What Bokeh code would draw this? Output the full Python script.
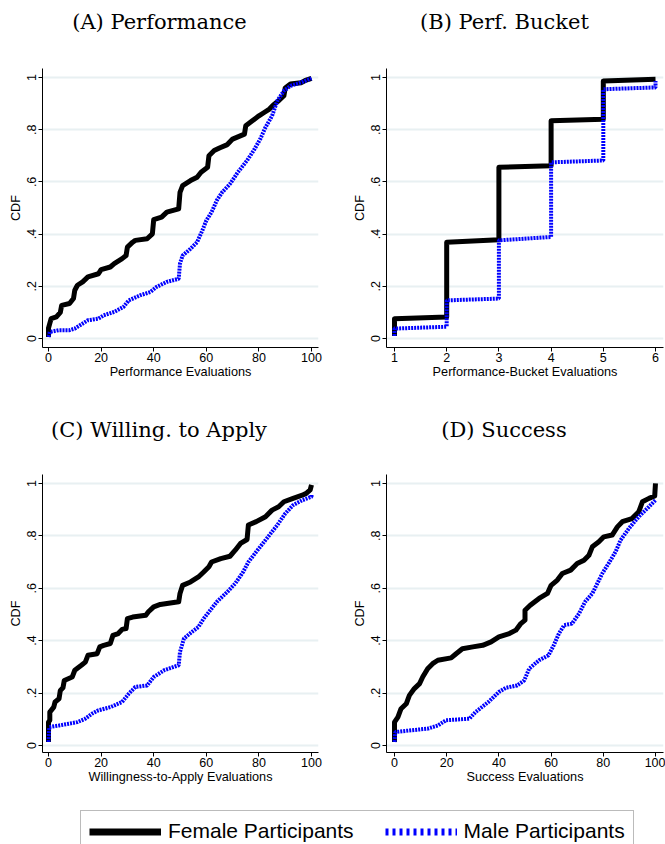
from bokeh.plotting import figure
from bokeh.layouts import column, row
from bokeh.models import Range1d, FixedTicker, Label, Legend, LegendItem
from bokeh.embed import file_html
from bokeh.resources import INLINE

# ---------------- data ----------------
titles = ["(A) Performance", "(B) Perf. Bucket", "(C) Willing. to Apply", "(D) Success"]
x_labels = ["Performance Evaluations", "Performance-Bucket Evaluations",
            "Willingness-to-Apply Evaluations", "Success Evaluations"]
y_label = "CDF"
legend_labels = ["Female Participants", "Male Participants"]

y_ticks = [0, 0.2, 0.4, 0.6, 0.8, 1]
y_tick_labels = ["0", ".2", ".4", ".6", ".8", "1"]
x_ticks_100 = [0, 20, 40, 60, 80, 100]
x_ticks_bucket = [1, 2, 3, 4, 5, 6]

perf_x_f = [0, 0, 1, 3, 4.5, 5, 8, 9.5, 10, 11, 13, 15, 19, 20, 23.5, 25, 28, 29.5, 30, 32,
            33, 37.5, 39.5, 40, 43, 45, 49.5, 50, 51, 54, 56.5, 58, 60.5, 61, 63, 65, 68, 70,
            74.5, 75, 77.5, 80, 82, 84, 85.5, 87.5, 89.5, 90, 92, 96, 98, 100]
perf_y_f = [0.006, 0.04, 0.076, 0.083, 0.10, 0.127, 0.134, 0.153, 0.185, 0.204, 0.217, 0.236,
            0.248, 0.264, 0.274, 0.287, 0.306, 0.318, 0.350, 0.369, 0.376, 0.382, 0.401, 0.455,
            0.465, 0.484, 0.497, 0.56, 0.586, 0.605, 0.618, 0.637, 0.656, 0.70, 0.72, 0.73,
            0.743, 0.764, 0.783, 0.815, 0.834, 0.853, 0.866, 0.879, 0.895, 0.911, 0.93, 0.96,
            0.975, 0.98, 0.99, 0.997]
perf_x_m = [0, 0.5, 4, 8, 10, 12, 15, 19, 21, 25, 28.5, 30.5, 35, 38.7, 41, 45, 49.5, 50, 51,
            54, 56.5, 58.5, 60, 62, 64, 66, 69, 72, 75.5, 78, 80.5, 82.5, 85, 87, 89.5, 92, 96, 100]
perf_y_m = [0.006, 0.025, 0.032, 0.032, 0.038, 0.051, 0.07, 0.076, 0.089, 0.102, 0.121, 0.146,
            0.166, 0.178, 0.197, 0.217, 0.229, 0.287, 0.318, 0.344, 0.369, 0.414, 0.452, 0.484,
            0.529, 0.56, 0.592, 0.637, 0.682, 0.72, 0.764, 0.809, 0.853, 0.911, 0.949, 0.968,
            0.981, 0.997]

bucket_x_f = [1, 1, 2, 2, 3, 3, 4, 4, 5, 5, 6]
bucket_y_f = [0.01, 0.076, 0.082, 0.369, 0.378, 0.656, 0.662, 0.834, 0.84, 0.987, 0.993]
bucket_x_m = [1, 1, 2, 2, 3, 3, 4, 4, 5, 5, 6, 6]
bucket_y_m = [0.01, 0.038, 0.045, 0.146, 0.153, 0.376, 0.389, 0.675, 0.682, 0.955, 0.962, 0.987]

will_x_f = [0, 0, 0.5, 0.5, 2, 2.5, 4, 4.5, 5.5, 6, 9, 10, 12.5, 14, 15, 18.5, 19.5, 21, 23.5,
            24.5, 26.5, 28, 29.5, 30, 32, 37, 38, 40, 42.5, 49.5, 50, 51, 54, 57, 59, 61, 62,
            65.5, 69, 71, 73, 75.5, 76, 79, 82.5, 85, 87.5, 89.5, 93, 96.5, 98, 99.5, 100]
will_y_f = [0.013, 0.089, 0.096, 0.127, 0.146, 0.166, 0.178, 0.21, 0.22, 0.248, 0.261, 0.287,
            0.306, 0.318, 0.344, 0.35, 0.376, 0.382, 0.389, 0.42, 0.427, 0.443, 0.446, 0.484,
            0.49, 0.497, 0.51, 0.529, 0.538, 0.548, 0.58, 0.611, 0.624, 0.643, 0.662, 0.682,
            0.70, 0.713, 0.722, 0.745, 0.771, 0.786, 0.841, 0.854, 0.873, 0.898, 0.911, 0.93,
            0.943, 0.955, 0.962, 0.975, 0.994]
will_x_m = [0, 0.3, 4, 11, 14, 16.5, 19, 23.5, 28, 30.5, 33, 37.5, 40, 44, 49.5, 50, 51.5, 54.5,
            57, 59, 61.5, 64, 68, 71, 74, 76, 79, 83, 87, 90, 93, 96.5, 100, 100]
will_y_m = [0.013, 0.07, 0.076, 0.089, 0.102, 0.121, 0.134, 0.146, 0.166, 0.197, 0.223, 0.229,
            0.261, 0.287, 0.306, 0.357, 0.408, 0.433, 0.452, 0.484, 0.516, 0.548, 0.586, 0.618,
            0.662, 0.70, 0.739, 0.79, 0.841, 0.885, 0.917, 0.936, 0.949, 0.96]

succ_x_f = [0, 0, 1.3, 2.5, 4.5, 5.7, 7.6, 9.6, 10.8, 12.7, 14.6, 16.6, 21.7, 23.6, 26, 30, 33.8,
            37, 40, 44, 46.5, 48.4, 50, 50, 52, 55.4, 58.6, 60, 62.4, 64.3, 67.5, 70, 72.6, 74.5,
            75.8, 78.3, 80.2, 83.4, 85.4, 87.3, 91, 93.6, 95, 97.5, 99.7, 100]
succ_y_f = [0.013, 0.089, 0.108, 0.14, 0.159, 0.191, 0.217, 0.236, 0.261, 0.293, 0.312, 0.325,
            0.334, 0.350, 0.369, 0.376, 0.382, 0.395, 0.414, 0.427, 0.44, 0.465, 0.478, 0.516,
            0.535, 0.561, 0.58, 0.611, 0.631, 0.656, 0.669, 0.694, 0.707, 0.726, 0.758, 0.777,
            0.796, 0.803, 0.834, 0.854, 0.866, 0.892, 0.93, 0.943, 0.952, 1.0]
succ_x_m = [0, 0.3, 5.7, 12.7, 16.6, 19.7, 28.7, 31, 36, 40, 42.7, 47, 49.7, 51.6, 55.4, 59, 61,
            63, 65, 68, 70.7, 73, 75.8, 77.7, 79.6, 82, 84.7, 86.6, 89.8, 93.6, 97.5, 100]
succ_y_m = [0.013, 0.051, 0.057, 0.064, 0.076, 0.096, 0.102, 0.127, 0.166, 0.204, 0.22, 0.229,
            0.248, 0.293, 0.325, 0.344, 0.382, 0.427, 0.459, 0.465, 0.503, 0.548, 0.58, 0.618,
            0.656, 0.694, 0.739, 0.783, 0.828, 0.873, 0.911, 0.936]

# ---------------- styling ----------------
FEMALE_COLOR = "black"
MALE_COLOR = "#0000FF"
GRID_COLOR = "#E8F0F2"
SANS = "Liberation Sans"
SERIF = "DejaVu Serif"


def strip(width, height):
    """A blank figure (no axes) whose frame fills it; used for titles and the legend."""
    s = figure(width=width, height=height, x_range=Range1d(0, width), y_range=Range1d(0, height),
               output_backend="svg", toolbar_location=None, min_border=0,
               x_axis_type=None, y_axis_type=None)
    s.title = None
    s.outline_line_color = None
    s.border_fill_color = "white"
    s.background_fill_color = "white"
    return s


def title_strip(text, width, height, cx, cy):
    s = strip(width, height)
    s.add_layout(Label(x=cx, y=cy, text=text, text_align="center", text_baseline="middle",
                       text_font=SERIF, text_font_size="21px", text_color="black"))
    return s


def panel(xlab, xf, yf, xm, ym, xticks, xr, yr, width, height,
          b_left, b_right, b_top, b_bottom):
    p = figure(width=width, height=height,
               x_range=Range1d(*xr), y_range=Range1d(*yr),
               output_backend="svg", toolbar_location=None,
               min_border_left=b_left, min_border_right=b_right,
               min_border_top=b_top, min_border_bottom=b_bottom)
    p.title = None
    p.outline_line_color = None
    p.background_fill_color = "white"
    p.border_fill_color = "white"

    p.xaxis.ticker = FixedTicker(ticks=xticks)
    p.yaxis.ticker = FixedTicker(ticks=y_ticks)
    p.yaxis.major_label_overrides = dict(zip(y_ticks, y_tick_labels))
    p.yaxis.major_label_orientation = "parallel"
    p.xaxis.axis_label = xlab
    p.yaxis.axis_label = y_label
    for ax in (p.xaxis, p.yaxis):
        ax.axis_line_color = "black"
        ax.axis_line_width = 1
        ax.major_tick_line_color = "black"
        ax.major_tick_out = 4
        ax.major_tick_in = 0
        ax.minor_tick_line_color = None
        ax.major_label_text_font = SANS
        ax.major_label_text_font_size = "12.5px"
        ax.major_label_text_color = "black"
        ax.axis_label_text_font = SANS
        ax.axis_label_text_font_size = "12.7px"
        ax.axis_label_text_font_style = "normal"
        ax.axis_label_text_color = "black"
    p.xaxis.major_label_standoff = 1
    p.xaxis.axis_label_standoff = 0
    p.yaxis.major_label_standoff = 2
    p.yaxis.axis_label_standoff = 2
    p.xgrid.visible = False
    p.ygrid.grid_line_color = GRID_COLOR
    p.ygrid.grid_line_width = 2

    p.line(xf, yf, line_color=FEMALE_COLOR, line_width=5, line_join="round")
    p.line(xm, ym, line_color=MALE_COLOR, line_width=4, line_dash="2 1")
    return p


LW, RW = 332, 333
TS = 50            # title strip height
PH = 350           # panel height
LH = 44            # legend strip height
TOP_YR = (-0.0345, 1.0345)
BOT_YR = (-0.027, 1.034)

tA = title_strip(titles[0], LW, TS, 159, 29)
tB = title_strip(titles[1], RW, TS, 172, 29)
tC = title_strip(titles[2], LW, TS, 158.5, 21)
tD = title_strip(titles[3], RW, TS, 171.5, 21)

pA = panel(x_labels[0], perf_x_f, perf_y_f, perf_x_m, perf_y_m,
           x_ticks_100, (-2.28, 102.66), TOP_YR, LW, PH, 42, 14, 18, 53)
pB = panel(x_labels[1], bucket_x_f, bucket_y_f, bucket_x_m, bucket_y_m,
           x_ticks_bucket, (0.847, 6.153), TOP_YR, RW, PH, 54, 2, 18, 53)
pC = panel(x_labels[2], will_x_f, will_y_f, will_x_m, will_y_m,
           x_ticks_100, (-2.28, 102.66), BOT_YR, LW, PH, 42, 14, 24, 48)
pD = panel(x_labels[3], succ_x_f, succ_y_f, succ_x_m, succ_y_m,
           x_ticks_100, (-3.07, 103.07), BOT_YR, RW, PH, 54, 2, 24, 48)

# ---------------- legend strip ----------------
pL = strip(LW + RW, LH)
nan = float("nan")
rf = pL.line([nan], [nan], line_color=FEMALE_COLOR, line_width=7)
rm = pL.line([nan], [nan], line_color=MALE_COLOR, line_width=7, line_dash="3 4")
leg = Legend(items=[LegendItem(label=legend_labels[0], renderers=[rf]),
                    LegendItem(label=legend_labels[1], renderers=[rm])],
             orientation="horizontal", location=(80, -8),
             glyph_width=72, glyph_height=21, label_height=21, label_standoff=7,
             spacing=31, padding=8, margin=0,
             label_text_font=SANS, label_text_font_size="21px", label_text_color="black",
             border_line_color="#777777", border_line_width=1,
             background_fill_color="white", background_fill_alpha=1)
pL.add_layout(leg, "center")

layout = column(row(tA, tB), row(pA, pB), row(tC, tD), row(pC, pD), pL)

html = file_html(layout, INLINE)
open("out.html", "w").write(html)
